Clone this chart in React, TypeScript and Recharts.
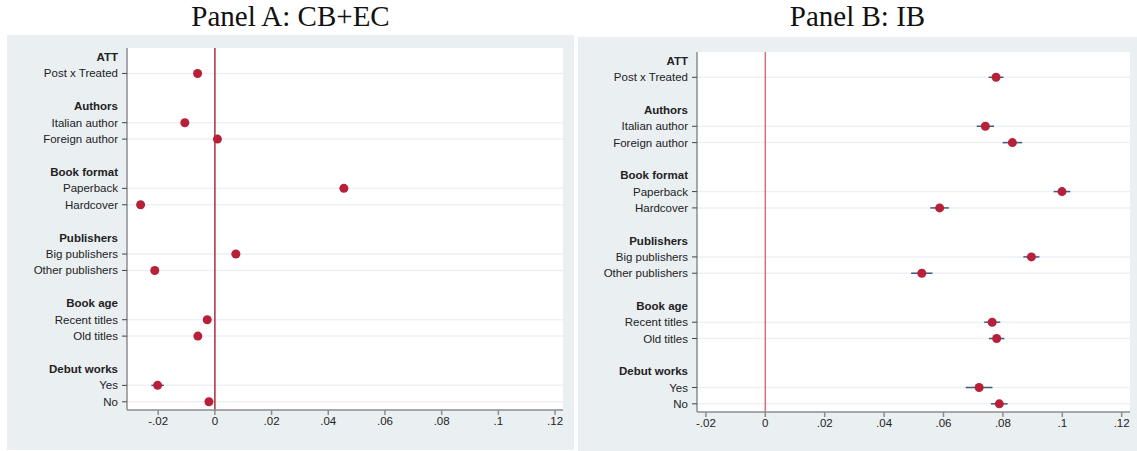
import {
  ScatterChart,
  Scatter,
  XAxis,
  YAxis,
  ReferenceLine,
  ErrorBar,
} from "recharts";

const groups = ["ATT", "Authors", "Book format", "Publishers", "Book age", "Debut works"];
const groupItems = [
  ["Post x Treated"],
  ["Italian author", "Foreign author"],
  ["Paperback", "Hardcover"],
  ["Big publishers", "Other publishers"],
  ["Recent titles", "Old titles"],
  ["Yes", "No"],
];

// point estimates and half-width of the CI, same order as the items above
const estA = [-0.0061, -0.0106, 0.0009, 0.0455, -0.0262, 0.0074, -0.0212, -0.0027, -0.006, -0.0202, -0.0021];
const ciA = [0.0008, 0.0009, 0.0014, 0.0009, 0.0009, 0.0015, 0.001, 0.0009, 0.0009, 0.0022, 0.0009];
const estB = [0.0777, 0.0741, 0.0832, 0.0999, 0.0587, 0.0896, 0.0527, 0.0764, 0.0779, 0.072, 0.0788];
const ciB = [0.0025, 0.0029, 0.0033, 0.0028, 0.0031, 0.0027, 0.0036, 0.0027, 0.0026, 0.0045, 0.0028];

const xTicks = [-0.02, 0, 0.02, 0.04, 0.06, 0.08, 0.1, 0.12];

type Row = { row: number; label: string; header: boolean };

const rows: Row[] = [];
const itemRows: number[] = [];
let r = 0;
groups.forEach((g, gi) => {
  rows.push({ row: r++, label: g, header: true });
  groupItems[gi].forEach((it) => {
    itemRows.push(r);
    rows.push({ row: r++, label: it, header: false });
  });
  r++; // blank spacer row
});
const rowTicks = rows.map((d) => d.row);
const rowByIdx: Record<number, Row> = {};
rows.forEach((d) => (rowByIdx[d.row] = d));

const makeData = (est: number[], ci: number[]) =>
  itemRows.map((row, i) => ({ x: est[i], y: row, err: ci[i] }));

const fmt = (v: number) => {
  if (v === 0) return "0";
  const s = String(Math.round(v * 100) / 100);
  return s.replace(/^(-?)0\./, "$1.");
};

const FONT = "'Liberation Sans', Arial, sans-serif";
const BG = "#eaeff2";
const AXIS = "#8a8d90";

const RowTick = (props: any) => {
  const { x, y, payload } = props;
  const d = rowByIdx[payload.value];
  if (!d) return null;
  return (
    <g>
      {!d.header && <line x1={x - 5} x2={x} y1={y} y2={y} stroke="#444" strokeWidth={1} />}
      <text
        x={x - 9}
        y={y}
        dy={4}
        textAnchor="end"
        fontFamily={FONT}
        fontSize={11.5}
        fontWeight={d.header ? 700 : 400}
        fill="#222"
      >
        {d.label}
      </text>
    </g>
  );
};

function Panel({
  title,
  left,
  top,
  width,
  height,
  margin,
  domain,
  data,
  zeroColor,
}: {
  title: string;
  left: number;
  top: number;
  width: number;
  height: number;
  margin: { top: number; right: number; left: number; bottom: number };
  domain: [number, number];
  data: { x: number; y: number; err: number }[];
  zeroColor: string;
}) {
  return (
    <>
      <div
        style={{
          position: "absolute",
          left,
          top: 0,
          width,
          height: top,
          textAlign: "center",
          fontFamily: "'Liberation Serif', 'Times New Roman', serif",
          fontSize: 29,
          lineHeight: "32px",
          color: "#111",
        }}
      >
        {title}
      </div>
      <div style={{ position: "absolute", left, top, width, height, background: BG }}>
        <ScatterChart width={width} height={height} margin={margin}>
          <rect x={margin.left + 118} y={margin.top} width={width - margin.left - margin.right - 118} height={height - margin.top - margin.bottom - 28} fill="#fff" />
          <XAxis
            type="number"
            dataKey="x"
            domain={domain}
            allowDataOverflow
            ticks={xTicks}
            tickFormatter={fmt}
            interval={0}
            height={28}
            stroke={AXIS}
            strokeWidth={1.5}
            tickSize={5}
            tick={{ fill: "#222", fontSize: 11.5, fontFamily: FONT }}
          />
          <YAxis
            type="number"
            dataKey="y"
            domain={[-0.55, 21.5]}
            allowDataOverflow
            reversed
            ticks={rowTicks}
            interval={0}
            width={118}
            stroke={AXIS}
            strokeWidth={1.5}
            tickLine={false}
            tickSize={0}
            tickMargin={0}
            tick={<RowTick />}
          />
          {itemRows.map((row) => (
            <ReferenceLine key={row} y={row} stroke="#edf1f3" strokeWidth={1.5} />
          ))}
          <ReferenceLine x={0} stroke={zeroColor} strokeWidth={1.5} />
          <Scatter
            data={data}
            fill="#b8203a"
            isAnimationActive={false}
            shape={(p: any) => <circle cx={p.cx} cy={p.cy} r={4.5} fill="#b8203a" />}
          >
            <ErrorBar dataKey="err" direction="x" width={0} stroke="#3e5a80" strokeWidth={1.5} />
          </Scatter>
        </ScatterChart>
      </div>
    </>
  );
}

export default function App() {
  return (
    <div style={{ position: "absolute", left: 0, top: 0, width: 1137, height: 451, background: "#fff" }}>
      <Panel
        title="Panel A: CB+EC"
        left={7}
        top={35}
        width={567}
        height={415}
        margin={{ top: 13, right: 11, left: 2, bottom: 12 }}
        domain={[-0.031, 0.1228]}
        data={makeData(estA, ciA)}
        zeroColor="#b02a3a"
      />
      <Panel
        title="Panel B: IB"
        left={578}
        top={37}
        width={559}
        height={414}
        margin={{ top: 15, right: 7, left: 1, bottom: 11 }}
        domain={[-0.023, 0.1228]}
        data={makeData(estB, ciB)}
        zeroColor="#d8707a"
      />
    </div>
  );
}
